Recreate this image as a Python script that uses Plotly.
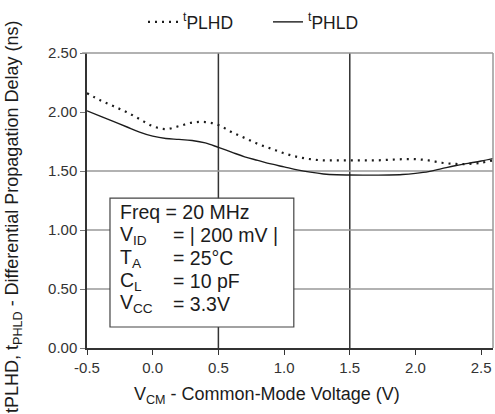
import plotly.graph_objects as go

# Data
x_vals = [-0.5, -0.4, -0.3, -0.2, -0.1, 0.0, 0.1, 0.2, 0.3, 0.4, 0.5, 0.6, 0.7, 0.8, 0.9,
          1.0, 1.1, 1.2, 1.3, 1.4, 1.5, 1.6, 1.7, 1.8, 1.9, 2.0, 2.1, 2.2, 2.3, 2.4, 2.5, 2.59]
t_plhd = [2.16, 2.10, 2.05, 2.00, 1.94, 1.88, 1.855, 1.88, 1.91, 1.915, 1.89, 1.83, 1.78, 1.73, 1.69,
          1.65, 1.62, 1.60, 1.59, 1.59, 1.59, 1.59, 1.59, 1.595, 1.60, 1.60, 1.59, 1.57, 1.56, 1.56, 1.57, 1.59]
t_phld = [2.01, 1.965, 1.92, 1.875, 1.83, 1.795, 1.775, 1.768, 1.758, 1.738, 1.70, 1.66, 1.62, 1.59, 1.56,
          1.535, 1.51, 1.49, 1.475, 1.468, 1.466, 1.465, 1.465, 1.466, 1.47, 1.48, 1.495, 1.52, 1.545, 1.565, 1.585, 1.605]

x_ticks = [-0.5, 0.0, 0.5, 1.0, 1.5, 2.0, 2.5]
x_tick_labels = ["-0.5", "0.0", "0.5", "1.0", "1.5", "2.0", "2.5"]
y_ticks = [0.0, 0.5, 1.0, 1.5, 2.0, 2.5]
y_tick_labels = ["0.00", "0.50", "1.00", "1.50", "2.00", "2.50"]
x_grid = [0.5, 1.5]
y_grid = [0.5, 1.0, 1.5]

cond_labels = ["Freq", "V<sub>ID</sub>", "T<sub>A</sub>", "C<sub>L</sub>", "V<sub>CC</sub>"]
cond_values = ["= 20 MHz", "= | 200 mV |", "= 25°C", "= 10 pF", "= 3.3V"]

FONT = "Liberation Sans, Arial, sans-serif"
INK = "#1c1c1c"

fig = go.Figure()
fig.add_trace(go.Scatter(x=x_vals, y=t_plhd, mode="lines", line_shape="spline",
                         name="<sup>t</sup>PLHD",
                         line=dict(color=INK, width=2.2, dash="2px,5px")))
fig.add_trace(go.Scatter(x=x_vals, y=t_phld, mode="lines", line_shape="spline",
                         name="<sup>t</sup>PHLD",
                         line=dict(color=INK, width=1.4)))

shapes = []
for gx in x_grid:
    shapes.append(dict(type="line", xref="x", yref="paper", x0=gx, x1=gx, y0=0, y1=1,
                       line=dict(color="#333333", width=1.5), layer="below"))
for gy in y_grid:
    shapes.append(dict(type="line", xref="paper", yref="y", x0=0, x1=1, y0=gy, y1=gy,
                       line=dict(color="#999999", width=1.5), layer="below"))
# top and right frame (gray)
shapes.append(dict(type="line", xref="paper", yref="paper", x0=-0.012, x1=1, y0=1, y1=1,
                   line=dict(color="#999999", width=1.5)))
shapes.append(dict(type="line", xref="paper", yref="paper", x0=1, x1=1, y0=0, y1=1,
                   line=dict(color="#999999", width=1.5)))
# conditions box
shapes.append(dict(type="rect", xref="x", yref="y", x0=-0.325, x1=1.074, y0=0.178, y1=1.27,
                   fillcolor="white", line=dict(color="#444444", width=1.2), layer="below"))

annotations = []
line_y = [1.15, 0.955, 0.76, 0.565, 0.375]
for lab, val, yy in zip(cond_labels, cond_values, line_y):
    if lab == "Freq":
        annotations.append(dict(x=-0.262, y=yy, xref="x", yref="y", xanchor="left", yanchor="middle",
                                text=lab + " " + val, showarrow=False,
                                font=dict(family=FONT, size=19.5, color=INK)))
    else:
        annotations.append(dict(x=-0.262, y=yy, xref="x", yref="y", xanchor="left", yanchor="middle",
                                text=lab, showarrow=False,
                                font=dict(family=FONT, size=19.5, color=INK)))
        annotations.append(dict(x=0.14, y=yy, xref="x", yref="y", xanchor="left", yanchor="middle",
                                text=val, showarrow=False,
                                font=dict(family=FONT, size=19.5, color=INK)))

# axis titles
annotations.append(dict(x=(267 - 87) / 406, y=-(395 - 348) / 295, xref="paper", yref="paper",
                        xanchor="center", yanchor="middle", showarrow=False,
                        text="V<sub>CM</sub> - Common-Mode Voltage (V)",
                        font=dict(family=FONT, size=18, color=INK)))
annotations.append(dict(x=-(87 - 13) / 406, y=(348 - 217) / 295, xref="paper", yref="paper",
                        xanchor="center", yanchor="middle", showarrow=False, textangle=-90,
                        text="tPLHD, t<sub>PHLD</sub> - Differential Propagation Delay (ns)",
                        font=dict(family=FONT, size=18, color=INK)))

fig.update_layout(
    width=495, height=414,
    margin=dict(l=87, r=2, t=53, b=66),
    plot_bgcolor="white", paper_bgcolor="white",
    font=dict(family=FONT, color=INK),
    shapes=shapes, annotations=annotations,
    showlegend=True,
    legend=dict(orientation="h", x=(143 - 87) / 406, xanchor="left",
                y=(348 - 22) / 295, yanchor="middle",
                font=dict(family=FONT, size=17.5, color=INK),
                entrywidth=80, entrywidthmode="pixels",
                bgcolor="rgba(0,0,0,0)", itemwidth=30),
)
fig.update_xaxes(range=[-0.5, 2.59], tickvals=x_ticks, ticktext=x_tick_labels,
                 showgrid=False, zeroline=False,
                 showline=True, linecolor="#333333", linewidth=1.5,
                 ticks="outside", ticklen=5, tickcolor="#333333",
                 tickfont=dict(family=FONT, size=15, color="#333333"))
fig.update_yaxes(range=[0, 2.5], tickvals=y_ticks, ticktext=y_tick_labels,
                 showgrid=False, zeroline=False,
                 showline=True, linecolor="#333333", linewidth=1.5,
                 ticks="outside", ticklen=5, tickcolor="#777777",
                 tickfont=dict(family=FONT, size=15, color="#333333"))

fig.write_html("out.html")
